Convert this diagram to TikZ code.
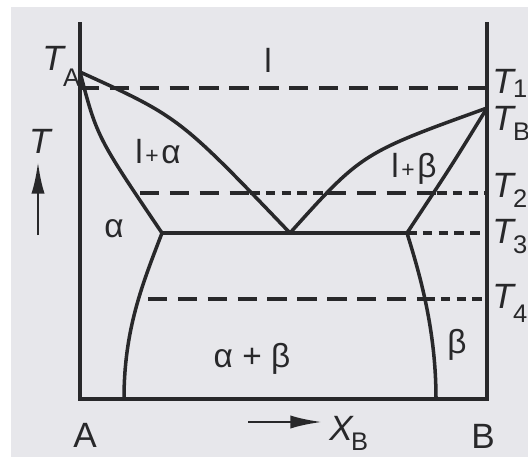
\documentclass[tikz,border=0pt]{standalone}
\usepackage{fontspec}
\setmainfont{Liberation Sans}
\usetikzlibrary{arrows.meta}

\definecolor{ink}{RGB}{40,40,42}
\definecolor{paper}{RGB}{231,231,235}
\newcommand{\tlab}[2][6.2pt]{\textit{T}\kern-0.08em\raisebox{-#1}{\fontsize{14.5}{15}\selectfont #2}}
\newcommand{\smallplus}{\kern1.5pt{\fontsize{13}{13}\selectfont +}\kern1.5pt}

\begin{document}
\begin{tikzpicture}[x=0.02cm, y=-0.02cm,
  phase/.style={draw=ink, line width=2pt},
  tie/.style={draw=ink, line width=1.9pt, dash pattern=on 11pt off 6pt},
  tieshort/.style={draw=ink, line width=1.9pt, dash pattern=on 5.5pt off 3.5pt},
  lab/.style={font=\fontsize{19}{20}\selectfont, text=ink, inner sep=0pt, anchor=base},
  tl/.style={font=\fontsize{20}{20}\selectfont, text=ink, inner sep=0pt, anchor=base west},
  axarrow/.style={draw=ink, line width=1.6pt, -{Latex[length=18pt, width=7.5pt]}}]
  \fill[paper] (0,0) rectangle (528,457);
  \fill[white] (0,0) rectangle (11,457);
  \fill[white] (0,0) rectangle (528,7);
  \useasboundingbox (0,0) rectangle (528,457);

  % key points
  \coordinate (TA) at (80,72);
  \coordinate (TB) at (487,108);
  \coordinate (E) at (290,233);
  \coordinate (Ea) at (162,233);
  \coordinate (Eb) at (407,233);
  \coordinate (Ba) at (124,399);
  \coordinate (Bb) at (436,399);

  % frame
  \draw[phase] (80,22) -- (80,399) -- (487,399) -- (487,22);

  % isotherms, long dashes in two-phase fields
  \foreach \y/\xa/\xb in {88/80/487, 193/140/250, 193/327/437, 299/148/425} {
    \draw[tie] (\xa,\y) -- (\xb,\y);
  }
  \foreach \y/\xa/\xb in {193/250/327, 193/437/487, 233/407/487, 299/425/487} {
    \draw[tieshort] (\xa,\y) -- (\xb,\y);
  }

  % liquidus, solidus, solvus
  \draw[phase] (TA) .. controls (179,117) .. (E);
  \draw[phase] (E) .. controls (362,153) .. (TB);
  \draw[phase] (TA) .. controls (97,137) .. (Ea);
  \draw[phase] (TB) .. controls (452,165) .. (Eb);
  \draw[phase] (Ea) -- (Eb);
  \draw[phase] (Ea) .. controls (142,285) and (124,330) .. (Ba);
  \draw[phase] (Eb) .. controls (420,275) and (436,330) .. (Bb);

  % phase fields
  \node[lab] (liq) at (268,72) {l};
  \node[lab] (la) at (158,163) {l\smallplus α};
  \node[lab] (lb) at (414,177) {l\smallplus β};
  \node[lab] (al) at (114,237) {α};
  \node[lab] (ab) at (252,367) {α + β};
  \node[lab] (be) at (457,353) {β};

  % temperatures
  \node[tl] (tA) at (42,70) {\tlab[9.5pt]{A}};
  \node[tl] (t1) at (492,93) {\tlab[2.5pt]{1}};
  \node[tl] (tB) at (492,130) {\tlab{B}};
  \node[tl] (t2) at (492,197) {\tlab{2}};
  \node[tl] (t3) at (492,243) {\tlab{3}};
  \node[tl] (t4) at (492,308) {\tlab[8pt]{4}};

  % axes
  \node[tl, anchor=base] (T) at (41,153) {\textit{T}};
  \coordinate (Tfoot) at (38,235);
  \coordinate (Thead) at (38,162);
  \draw[axarrow] (Tfoot) -- (Thead);
  \node[tl, anchor=base] (A) at (85,447) {A};
  \node[tl, anchor=base] (B) at (483,448) {B};
  \node[tl] (XB) at (329,440) {\textit{X}\kern-0.08em\raisebox{-6pt}{\fontsize{14.5}{15}\selectfont B}};
  \coordinate (Xfoot) at (248,422);
  \coordinate (Xhead) at (322,422);
  \draw[axarrow] (Xfoot) -- (Xhead);
\end{tikzpicture}
\end{document}
